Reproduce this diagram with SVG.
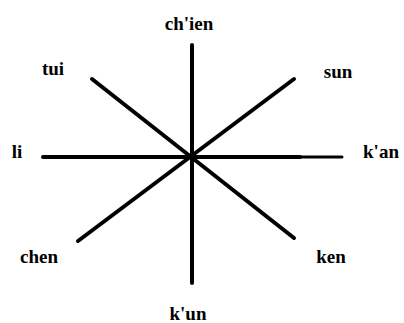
<svg xmlns="http://www.w3.org/2000/svg" width="404" height="323" viewBox="0 0 404 323">
<style>
.l{stroke:#000;stroke-width:4;stroke-linecap:round;fill:none}
.t{font-family:"Liberation Serif",serif;font-size:19px;font-weight:bold;fill:#000}
</style>
<rect width="404" height="323" fill="#fff"/>
<g id="connectors">
<line class="l" x1="192" y1="45" x2="192" y2="283"/>
<line class="l" x1="43" y1="157" x2="300" y2="157"/>
<line class="l" x1="300" y1="157" x2="342" y2="157" style="stroke-width:3"/>
<line class="l" x1="92" y1="79" x2="294" y2="238"/>
<line class="l" x1="294" y1="79" x2="78" y2="241"/>
</g>
<g id="chien"><text class="t" x="189" y="30" text-anchor="middle">ch'ien</text></g>
<g id="tui"><text class="t" x="53" y="75" text-anchor="middle">tui</text></g>
<g id="sun"><text class="t" x="338" y="78" text-anchor="middle">sun</text></g>
<g id="li"><text class="t" x="17" y="158" text-anchor="middle">li</text></g>
<g id="kan"><text class="t" x="381" y="158" text-anchor="middle">k'an</text></g>
<g id="chen"><text class="t" x="39" y="263" text-anchor="middle">chen</text></g>
<g id="ken"><text class="t" x="331" y="263" text-anchor="middle">ken</text></g>
<g id="kun"><text class="t" x="188" y="320" text-anchor="middle">k'un</text></g>
</svg>
